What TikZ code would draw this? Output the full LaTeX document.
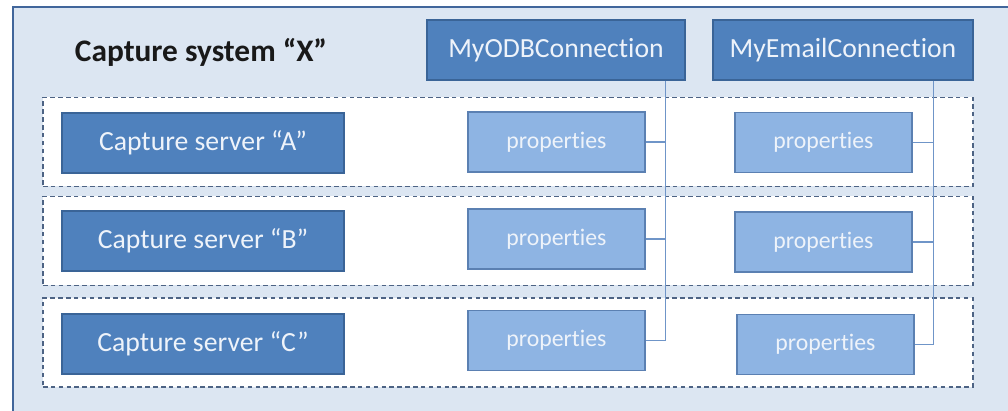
\documentclass[tikz,border=0pt]{standalone}
\usepackage{fontspec}
\setmainfont[Ligatures=NoCommon]{Carlito}
\usetikzlibrary{positioning}

\definecolor{sysfill}{HTML}{DCE6F2}
\definecolor{sysline}{HTML}{41669B}
\definecolor{darkfill}{HTML}{4F81BD}
\definecolor{darkline}{HTML}{3A6497}
\definecolor{lightfill}{HTML}{8EB4E3}
\definecolor{lightline}{HTML}{5B80B2}
\definecolor{dashline}{HTML}{4D6384}
\definecolor{linkline}{HTML}{6F95C8}
\definecolor{boxtext}{HTML}{EEF3FA}

\tikzset{
  darkbox/.style={draw=darkline, fill=darkfill, line width=0.8pt, inner sep=0pt,
    text=boxtext, font=\fontsize{19.7}{23}\selectfont, minimum height=60*0.025cm},
  propbox/.style={draw=lightline, fill=lightfill, line width=0.8pt, inner sep=0pt,
    text=boxtext, font=\fontsize{16.9}{20}\selectfont,
    minimum width=177*0.025cm, minimum height=60*0.025cm},
  rowbox/.style={draw=dashline, fill=white, dash pattern=on 3.2pt off 2.4pt, line width=0.8pt,
    minimum width=930*0.025cm, minimum height=89*0.025cm, inner sep=0pt},
  link/.style={draw=linkline, line width=0.9pt}
}

\begin{document}
\begin{tikzpicture}[x=0.025cm, y=-0.025cm] % one unit = one pixel of the reference

    % --- Frame of the capture system ---
    \useasboundingbox (0,0) rectangle (1008,411);
    \fill[sysfill] (13,7) rectangle (1008,411);
    \draw[sysline, line width=1.6pt] (13,411) -- (13,7) -- (1008,7);

    % Title
    \node[font=\fontsize{22.3}{26}\selectfont\bfseries, text=black!90] (title) at (201,52) {Capture system “X”};

    % --- Rows for the servers (dashed) ---
    \node[rowbox] (rowA) at (508,142) {};
    \node[rowbox] (rowB) at (508,241) {};
    \node[rowbox] (rowC) at (508,342.5) {};

    % --- Connections at the top ---
    \node[darkbox, minimum width=258*0.025cm] (odb) at (556,50) {MyODBConnection};
    \node[darkbox, minimum width=260*0.025cm] (email) at (843,50) {MyEmailConnection};

    % --- Capture servers ---
    \node[darkbox, minimum width=282*0.025cm] (srvA) at (203,143) {Capture server “A”};
    \node[darkbox, minimum width=282*0.025cm] (srvB) at (203,241) {Capture server “B”};
    \node[darkbox, minimum width=282*0.025cm] (srvC) at (203,344) {Capture server “C”};

    % --- Properties of each connection ---
    \node[propbox] (odbA) at (556.5,142) {properties};
    \node[propbox] (odbB) at (556.5,239) {properties};
    \node[propbox] (odbC) at (556.5,340.5) {properties};

    \node[propbox] (emailA) at (823.5,142.5) {properties};
    \node[propbox] (emailB) at (823.5,242) {properties};
    \node[propbox] (emailC) at (825.5,344.5) {properties};

    % --- Lines from the connections down to the properties ---
    \coordinate (odbDrop) at ([xshift=-0.5cm]odb.south east);
    \coordinate (emailDrop) at ([xshift=-1cm]email.south east);

    \draw[link] (odbDrop) |- (odbC.east);
    \draw[link] (odbA.east) -- (odbA.east -| odbDrop);
    \draw[link] (odbB.east) -- (odbB.east -| odbDrop);

    \draw[link] (emailDrop) |- (emailC.east);
    \draw[link] (emailA.east) -- (emailA.east -| emailDrop);
    \draw[link] (emailB.east) -- (emailB.east -| emailDrop);

\end{tikzpicture}
\end{document}
